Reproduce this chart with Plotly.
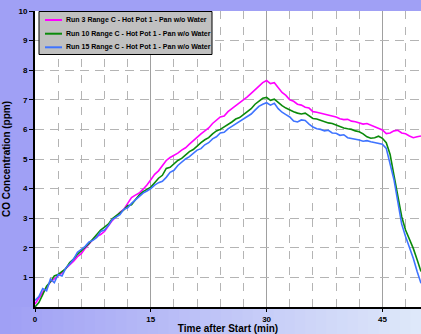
import plotly.graph_objects as go

time_min = [0, 0.5, 1, 1.5, 2, 2.5, 3, 3.5, 4, 4.5, 5, 5.5, 6, 6.5, 7, 7.5, 8, 8.5, 9, 9.5,
            10, 10.5, 11, 11.5, 12, 12.5, 13, 13.5, 14, 14.5, 15, 15.5, 16, 16.5, 17, 17.5, 18, 18.5, 19, 19.5,
            20, 20.5, 21, 21.5, 22, 22.5, 23, 23.5, 24, 24.5, 25, 25.5, 26, 26.5, 27, 27.5, 28, 28.5, 29, 29.5,
            30, 30.5, 31, 31.5, 32, 32.5, 33, 33.5, 34, 34.5, 35, 35.5, 36, 36.5, 37, 37.5, 38, 38.5, 39, 39.5,
            40, 40.5, 41, 41.5, 42, 42.5, 43, 43.5, 44, 44.5, 45, 45.5, 46, 46.5, 47, 47.5, 48, 48.5, 49, 49.5, 50]

run3 = [0.1, 0.3, 0.5, 0.65, 0.85, 0.95, 1.05, 1.15, 1.3, 1.42, 1.55, 1.7, 1.8, 1.98, 2.15, 2.28, 2.38, 2.45, 2.55, 2.75,
        2.92, 3.05, 3.2, 3.3, 3.5, 3.7, 3.78, 3.85, 3.98, 4.12, 4.3, 4.48, 4.6, 4.78, 4.95, 5.05, 5.12, 5.2, 5.3, 5.38,
        5.5, 5.62, 5.75, 5.85, 5.95, 6.05, 6.2, 6.32, 6.42, 6.45, 6.6, 6.7, 6.8, 6.88, 7.0, 7.1, 7.22, 7.35, 7.45, 7.58,
        7.65, 7.55, 7.58, 7.4, 7.25, 7.15, 7.0, 6.95, 6.85, 6.82, 6.75, 6.72, 6.6, 6.58, 6.55, 6.52, 6.48, 6.46, 6.42, 6.36,
        6.33, 6.34, 6.28, 6.26, 6.22, 6.18, 6.2, 6.14, 6.1, 6.03, 5.98, 5.86, 5.88, 5.95, 5.97, 5.88, 5.85, 5.78, 5.72, 5.75, 5.78]

run10 = [0.0, 0.15, 0.42, 0.7, 0.85, 1.05, 1.1, 1.2, 1.3, 1.5, 1.62, 1.78, 1.9, 2.05, 2.15, 2.3, 2.45, 2.6, 2.7, 2.8,
         2.98, 3.08, 3.18, 3.28, 3.42, 3.45, 3.62, 3.78, 3.9, 3.98, 4.05, 4.2, 4.35, 4.45, 4.68, 4.72, 4.85, 4.95, 5.02, 5.15,
         5.25, 5.32, 5.45, 5.55, 5.65, 5.72, 5.85, 5.95, 6.0, 6.08, 6.15, 6.25, 6.35, 6.4, 6.5, 6.6, 6.7, 6.85, 6.95, 7.05,
         7.08, 6.98, 7.02, 6.9, 6.8, 6.72, 6.65, 6.6, 6.55, 6.52, 6.55, 6.45, 6.37, 6.35, 6.3, 6.25, 6.22, 6.2, 6.15, 6.08,
         6.05, 6.02, 6.0, 5.95, 5.92, 5.85, 5.75, 5.7, 5.72, 5.77, 5.7, 5.55, 5.15, 4.45, 3.75, 3.05, 2.6, 2.3, 1.98, 1.6, 1.2]

run15 = [0.22, 0.35, 0.62, 0.55, 0.95, 0.82, 1.1, 1.05, 1.32, 1.45, 1.62, 1.85, 1.95, 2.05, 2.2, 2.25, 2.35, 2.55, 2.6, 2.75,
         2.95, 3.05, 3.12, 3.3, 3.35, 3.5, 3.62, 3.72, 3.85, 3.92, 4.0, 4.12, 4.2, 4.25, 4.38, 4.55, 4.62, 4.78, 4.9, 5.0,
         5.08, 5.18, 5.3, 5.35, 5.48, 5.55, 5.68, 5.75, 5.88, 5.9, 6.02, 6.1, 6.18, 6.25, 6.33, 6.42, 6.52, 6.65, 6.78, 6.85,
         6.9, 6.82, 6.88, 6.7, 6.58, 6.5, 6.42, 6.28, 6.25, 6.32, 6.3, 6.18, 6.08, 6.02, 6.0, 5.95, 5.97, 5.88, 5.87, 5.8,
         5.82, 5.72, 5.7, 5.66, 5.64, 5.6, 5.62, 5.58, 5.56, 5.53, 5.5, 5.36, 4.85, 4.3, 3.55, 2.8, 2.38, 2.02, 1.65, 1.2, 0.8]

series_names = ["Run 3 Range C - Hot Pot 1 - Pan w/o Water",
                "Run 10 Range C - Hot Pot 1 - Pan w/o Water",
                "Run 15 Range C - Hot Pot 1 - Pan w/o Water"]
series_colors = ["#ff00ff", "#0a8a0a", "#3f74ff"]
y_ticks = [1, 2, 3, 4, 5, 6, 7, 8, 9, 10]
x_ticks = [0, 15, 30, 45]

FONT = "Arial, 'Liberation Sans', sans-serif"

fig = go.Figure()
for name, vals, col in zip(series_names, [run3, run10, run15], series_colors):
    fig.add_trace(go.Scatter(x=time_min, y=vals, mode="lines", name=name, showlegend=False,
                             line=dict(color=col, width=1.6)))

# plot area in pixels: left 35, right 421, top 11, bottom 307
PL, PR, PT, PB = 35, 421, 11, 307
def px_x(p):
    return (p - PL) / (PR - PL)
def px_y(p):
    return (PB - p) / (PB - PT)

shapes = []
# background gradient on bottom strip
n = 40
c0 = (160, 160, 245)
c1 = (222, 232, 250)
for i in range(n):
    t = i / (n - 1)
    col = "rgb(%d,%d,%d)" % tuple(int(c0[k] + (c1[k] - c0[k]) * t) for k in range(3))
    shapes.append(dict(type="rect", xref="paper", yref="paper",
                       x0=px_x(421 * i / n), x1=px_x(421 * (i + 1) / n) + 0.002,
                       y0=px_y(334), y1=0, fillcolor=col, line=dict(width=0), layer="below"))

# legend box (drawn as a box with line samples and labels)
shapes.append(dict(type="rect", xref="paper", yref="paper",
                   x0=px_x(39), x1=px_x(212), y0=px_y(54.5), y1=px_y(11.5),
                   fillcolor="#c0c0c0", line=dict(color="black", width=1), layer="above"))
annotations = []
legend_rows = [20, 33.7, 47.3]
for name, col, row in zip(series_names, series_colors, legend_rows):
    shapes.append(dict(type="line", xref="paper", yref="paper",
                       x0=px_x(45), x1=px_x(62), y0=px_y(row), y1=px_y(row),
                       line=dict(color=col, width=2), layer="above"))
    annotations.append(dict(xref="paper", yref="paper", x=px_x(64), y=px_y(row),
                            xanchor="left", yanchor="middle", showarrow=False,
                            text=name, font=dict(family=FONT, size=7, weight="bold", color="black")))

fig.update_layout(
    width=421, height=334,
    margin=dict(l=PL, r=421 - PR, t=PT, b=334 - PB),
    paper_bgcolor="#a0a0f5",
    plot_bgcolor="white",
    font=dict(family=FONT, color="black", size=8),
    shapes=shapes,
    annotations=annotations,
    showlegend=False,
    xaxis=dict(range=[0, 50], tickvals=x_ticks, ticktext=[str(v) for v in x_ticks],
               showline=True, linecolor="black", linewidth=2,
               showgrid=True, gridcolor="#a0a0a0", gridwidth=1,
               ticks="outside", ticklen=3, tickcolor="black",
               tickfont=dict(family=FONT, size=8, weight="bold"),
               minor=dict(dtick=3, tick0=0, showgrid=True, gridcolor="#b4b4b4", griddash="8px,8px", gridwidth=1),
               title=dict(text="Time after Start (min)", standoff=1,
                          font=dict(family=FONT, size=10, weight="bold")),
               zeroline=False, fixedrange=True, automargin=False),
    yaxis=dict(range=[0, 10], tickvals=y_ticks, ticktext=[str(v) for v in y_ticks],
               showline=True, linecolor="black", linewidth=2,
               showgrid=True, gridcolor="#b4b4b4", griddash="9px,6px", gridwidth=1,
               ticks="outside", ticklen=4, tickcolor="black",
               tickfont=dict(family=FONT, size=8, weight="bold"),
               title=dict(text="CO Concentration (ppm)", standoff=6,
                          font=dict(family=FONT, size=10, weight="bold")),
               zeroline=False, fixedrange=True, automargin=False),
)

fig.write_html("out.html", config={"displayModeBar": False},
               post_script="document.body.style.margin='0px';document.body.style.overflow='hidden';")
